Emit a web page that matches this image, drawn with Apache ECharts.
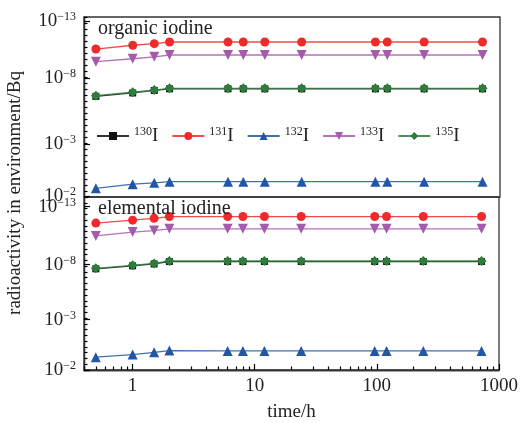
<!DOCTYPE html>
<html>
<head>
<meta charset="utf-8">
<script src="https://cdn.jsdelivr.net/npm/echarts@6/dist/echarts.min.js"></script>
<style>
  html, body { margin: 0; background: #fff; }
  #chart { width: 521px; height: 423px; }
</style>
</head>
<body>
<div id="chart"></div>
<script>
// 时间点 (h)
const TIMES = [0.5, 1, 1.5, 2, 6, 8, 12, 24, 96, 120, 240, 720];
const ISOTOPES = ['130', '131', '132', '133', '135'];

// 有机碘（上图），纵轴为图中刻度位置
const ORG_130 = [5.59, 5.78, 5.92, 6.01, 6.01, 6.01, 6.01, 6.01, 6.01, 6.01, 6.01, 6.01];
const ORG_131 = [8.22, 8.43, 8.52, 8.61, 8.61, 8.61, 8.61, 8.61, 8.61, 8.61, 8.61, 8.61];
const ORG_132 = [0.48, 0.71, 0.79, 0.85, 0.85, 0.85, 0.85, 0.85, 0.85, 0.85, 0.85, 0.85];
const ORG_133 = [7.52, 7.68, 7.79, 7.89, 7.89, 7.89, 7.89, 7.89, 7.89, 7.89, 7.89, 7.89];
const ORG_135 = [5.63, 5.82, 5.94, 6.04, 6.04, 6.04, 6.04, 6.04, 6.04, 6.04, 6.04, 6.04];

// 元素碘（下图）
const ELEM_130 = [5.85, 6.02, 6.13, 6.27, 6.27, 6.27, 6.27, 6.27, 6.27, 6.27, 6.27, 6.27];
const ELEM_131 = [8.49, 8.66, 8.77, 8.87, 8.87, 8.87, 8.87, 8.87, 8.87, 8.87, 8.87, 8.87];
const ELEM_132 = [0.74, 0.89, 1.02, 1.12, 1.10, 1.10, 1.10, 1.10, 1.10, 1.10, 1.10, 1.10];
const ELEM_133 = [7.75, 7.97, 8.06, 8.16, 8.16, 8.16, 8.16, 8.16, 8.16, 8.16, 8.16, 8.16];
const ELEM_135 = [5.88, 6.05, 6.16, 6.30, 6.30, 6.30, 6.30, 6.30, 6.30, 6.30, 6.30, 6.30];

// 刻度标签
const Y_EXPONENTS = ['−13', '−8', '−3', '−2'];
const ORG_TICKS = [9.78, 6.61, 2.94, 0.06];
const ELEM_TICKS = [9.44, 6.09, 2.91, 0];
const X_LABELS = [1, 10, 100, 1000];

const FONT = '"Liberation Serif", "DejaVu Serif", serif';
const STYLE = {
  '130': { color: '#111111', symbol: 'rect', size: 7 },
  '131': { color: '#ee2a2a', symbol: 'circle', size: 9 },
  '132': { color: '#2256a6', symbol: 'triangle', size: 10 },
  '133': { color: '#a65aab', symbol: 'path://M0,0 L10,0 L5,9 Z', size: 10 },
  '135': { color: '#2e7d3c', symbol: 'diamond', size: 10 },
};

const xMinor = [];
for (const d of [0.1, 1, 10, 100]) for (let k = 2; k <= 9; k++) {
  const v = +(k * d).toFixed(2);
  if (v >= 0.4 && v <= 1000) xMinor.push(v);
}
const yMinor = [];
for (let v = 0; v <= 10.001; v += 1 / 3) yMinor.push(+v.toFixed(3));

const chart = echarts.init(document.getElementById('chart'));

const supRich = {
  b: { fontFamily: FONT, fontSize: 19, lineHeight: 20, color: '#222' },
  sup: { fontFamily: FONT, fontSize: 12, lineHeight: 12, verticalAlign: 'top', color: '#222' },
};
const line = () => ({ show: true, onZero: false, lineStyle: { color: '#333', width: 1.3 } });
const tick = (len, vals) => ({ show: true, inside: true, length: len, customValues: vals, lineStyle: { color: '#000', width: 1.2 } });

function yAxes(gridIndex, ticks) {
  return [{
    type: 'value', gridIndex, min: 0, max: 10, position: 'left',
    splitLine: { show: false }, axisLine: line(), axisTick: tick(6, ticks),
    axisLabel: {
      customValues: ticks, margin: 8,
      formatter: v => '{b|10}{sup|' + Y_EXPONENTS[ticks.indexOf(v)] + '}',
      rich: supRich,
    },
  }, {
    type: 'value', gridIndex, min: 0, max: 10, position: 'left',
    splitLine: { show: false }, axisLine: line(), axisLabel: { show: false },
    axisTick: tick(3.5, yMinor),
  }];
}

function makeSeries(iso, data, xi, yi) {
  const s = STYLE[iso];
  return {
    name: iso, type: 'line', xAxisIndex: xi, yAxisIndex: yi,
    data: TIMES.map((t, i) => [t, data[i]]),
    symbol: s.symbol, symbolSize: s.size,
    itemStyle: { color: s.color },
    lineStyle: { color: s.color, width: 1.3, opacity: 0.85 },
    emphasis: { disabled: true },
  };
}

const orgData = [ORG_130, ORG_131, ORG_132, ORG_133, ORG_135];
const elemData = [ELEM_130, ELEM_131, ELEM_132, ELEM_133, ELEM_135];

chart.setOption({
  animation: false,
  backgroundColor: '#fff',
  textStyle: { fontFamily: FONT },
  grid: [
    { left: 84, right: 21, top: 17, height: 180, show: true, borderColor: '#333', borderWidth: 1.3 },
    { left: 84, right: 21, top: 197, height: 179, show: true, borderColor: '#333', borderWidth: 1.3 },
  ],
  xAxis: [
    { type: 'log', gridIndex: 0, min: 0.4, max: 1000, show: false },
    {
      type: 'log', gridIndex: 1, min: 0.4, max: 1000, position: 'bottom',
      name: 'time/h', nameLocation: 'middle', nameGap: 33,
      nameTextStyle: { fontFamily: FONT, fontSize: 19, color: '#222' },
      axisLine: line(), splitLine: { show: false }, axisTick: tick(6, X_LABELS),
      axisLabel: { customValues: X_LABELS, formatter: v => String(v), fontFamily: FONT, fontSize: 19, color: '#222', margin: 7 },
    },
    {
      type: 'log', gridIndex: 1, min: 0.4, max: 1000, position: 'bottom',
      axisLine: line(), splitLine: { show: false }, axisLabel: { show: false },
      axisTick: tick(3.5, xMinor),
    },
  ],
  yAxis: [...yAxes(0, ORG_TICKS), ...yAxes(1, ELEM_TICKS)],
  title: [
    { text: 'organic iodine', left: 93, top: 14, textStyle: { fontFamily: FONT, fontSize: 20, fontWeight: 'normal', color: '#222' } },
    { text: 'elemental iodine', left: 93, top: 194, textStyle: { fontFamily: FONT, fontSize: 20, fontWeight: 'normal', color: '#222' } },
  ],
  legend: {
    data: ISOTOPES, left: 91, top: 121, itemWidth: 32, itemHeight: 10, itemGap: 13,
    selectedMode: false,
    formatter: n => '{sup|' + n + '}{b|I}',
    textStyle: { fontFamily: FONT, color: '#222', rich: supRich },
  },
  graphic: [{
    type: 'text', x: 15, y: 193, rotation: Math.PI / 2,
    style: {
      text: 'radioactivity in environment/Bq', font: '19px ' + FONT,
      fill: '#222', align: 'center', verticalAlign: 'middle',
    },
  }],
  series: [
    ...ISOTOPES.map((iso, i) => makeSeries(iso, orgData[i], 0, 0)),
    ...ISOTOPES.map((iso, i) => makeSeries(iso, elemData[i], 1, 2)),
  ],
});
</script>
</body>
</html>
